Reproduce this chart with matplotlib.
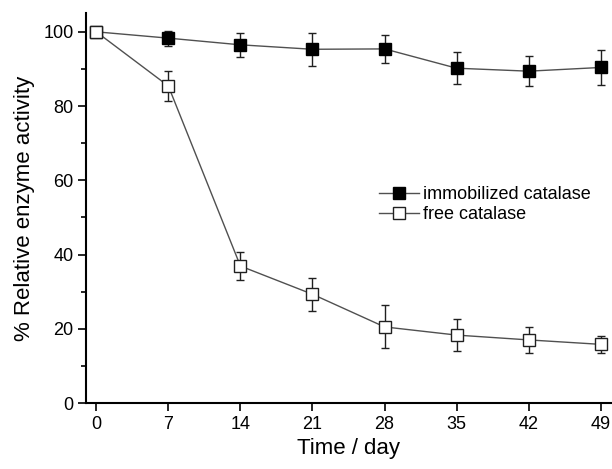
import matplotlib
matplotlib.use("Agg")
import matplotlib.pyplot as plt
from matplotlib.ticker import MultipleLocator

plt.rcParams['font.family'] = ['Liberation Sans', 'DejaVu Sans']

days = [0, 7, 14, 21, 28, 35, 42, 49]
immobilized = [100.0, 98.3, 96.5, 95.3, 95.4, 90.2, 89.4, 90.4]
immobilized_err = [0.0, 2.0, 3.3, 4.4, 3.7, 4.3, 4.0, 4.7]
free = [100.0, 85.4, 36.9, 29.3, 20.5, 18.3, 17.0, 15.8]
free_err = [0.0, 4.0, 3.8, 4.4, 5.8, 4.3, 3.6, 2.2]
x_ticks = [0, 7, 14, 21, 28, 35, 42, 49]
y_ticks = [0, 20, 40, 60, 80, 100]

fig = plt.figure(figsize=(6.12, 4.69), dpi=100)
ax = fig.add_axes([0.1405, 0.1407, 0.858, 0.831])

line_col = '#505050'
c1 = ax.errorbar(days, immobilized, yerr=immobilized_err, color=line_col, lw=1.0,
                 marker='s', ms=8, mfc='black', mec='black', ecolor='#202020',
                 elinewidth=1.0, capsize=3, capthick=1.0, label='immobilized catalase', zorder=3)
c2 = ax.errorbar(days, free, yerr=free_err, color=line_col, lw=1.0,
                 marker='s', ms=8, mfc='white', mec='#202020', mew=1.0, ecolor='#202020',
                 elinewidth=1.0, capsize=3, capthick=1.0, label='free catalase', zorder=3)

ax.set_xlim(-1, 50)
ax.set_ylim(0, 105)
ax.set_xticks(x_ticks)
ax.set_yticks(y_ticks)
ax.yaxis.set_minor_locator(MultipleLocator(10))

for s in ['top', 'right']:
    ax.spines[s].set_visible(False)
for s in ['left', 'bottom']:
    ax.spines[s].set_linewidth(1.5)

ax.tick_params(axis='both', which='major', direction='out', length=5.5, width=1.2, labelsize=13)
ax.tick_params(axis='y', which='minor', direction='out', length=3.5, width=1.2)
ax.tick_params(axis='x', which='minor', length=0)

ax.set_xlabel('Time / day', fontsize=16, labelpad=4)
ax.set_ylabel('% Relative enzyme activity', fontsize=16, labelpad=6)

ax.legend([c1[0], c2[0]], ['immobilized catalase', 'free catalase'],
          loc='upper left', bbox_to_anchor=(0.545, 0.575), frameon=False, fontsize=13,
          handlelength=2.2, handletextpad=0.2, labelspacing=0.15, borderaxespad=0)

fig.savefig('out.png', dpi=100, facecolor='white')
